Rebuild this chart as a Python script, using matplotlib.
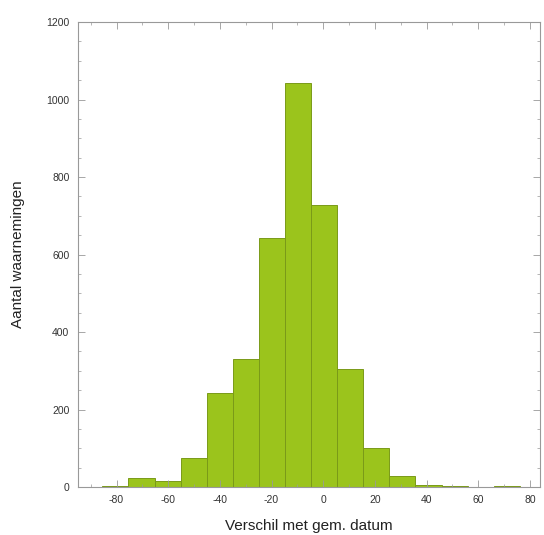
import numpy as np
import matplotlib
matplotlib.use('Agg')
import matplotlib.pyplot as plt
from matplotlib.ticker import MultipleLocator

plt.rcParams['font.family'] = ['Liberation Sans', 'DejaVu Sans']
plt.rcParams['axes.unicode_minus'] = False

# histogram bins (left edges) and counts
bin_left = [-95.6, -85.5, -75.4, -65.3, -55.2, -45.1, -35.0, -24.9, -14.8,
            -4.7, 5.4, 15.5, 25.6, 35.7, 45.8, 55.9, 66.0, 76.1]
counts = [1, 3, 23, 15, 75, 243, 330, 643, 1043,
          728, 305, 100, 28, 4, 2, 1, 2, 1]
bin_width = 10.1

x_ticks = [-80, -60, -40, -20, 0, 20, 40, 60, 80]
y_ticks = [0, 200, 400, 600, 800, 1000, 1200]

fig = plt.figure(figsize=(5.44, 5.35), dpi=100)
ax = fig.add_axes([0.143, 0.0897, 0.85, 0.869])

ax.bar(bin_left, counts, width=bin_width, align='edge',
       color='#9bc41c', edgecolor='#7a9a18', linewidth=0.7)

ax.set_xlim(-95, 84)
ax.set_ylim(0, 1200)
ax.set_xticks(x_ticks)
ax.set_yticks(y_ticks)
ax.xaxis.set_minor_locator(MultipleLocator(10))
ax.yaxis.set_minor_locator(MultipleLocator(50))
ax.tick_params(which='both', direction='in', top=True, right=True,
               colors='#999999', labelcolor='#333333', labelsize=7.5)
ax.tick_params(which='major', length=5, width=0.6, pad=6)
ax.tick_params(which='minor', length=2.5, width=0.5)
for s in ax.spines.values():
    s.set_color('#999999')
    s.set_linewidth(0.8)

ax.set_xlabel('Verschil met gem. datum', fontsize=11, color='#222222', labelpad=10)
ax.set_ylabel('Aantal waarnemingen', fontsize=11, color='#222222', labelpad=15)

fig.savefig('out.png', dpi=100)
